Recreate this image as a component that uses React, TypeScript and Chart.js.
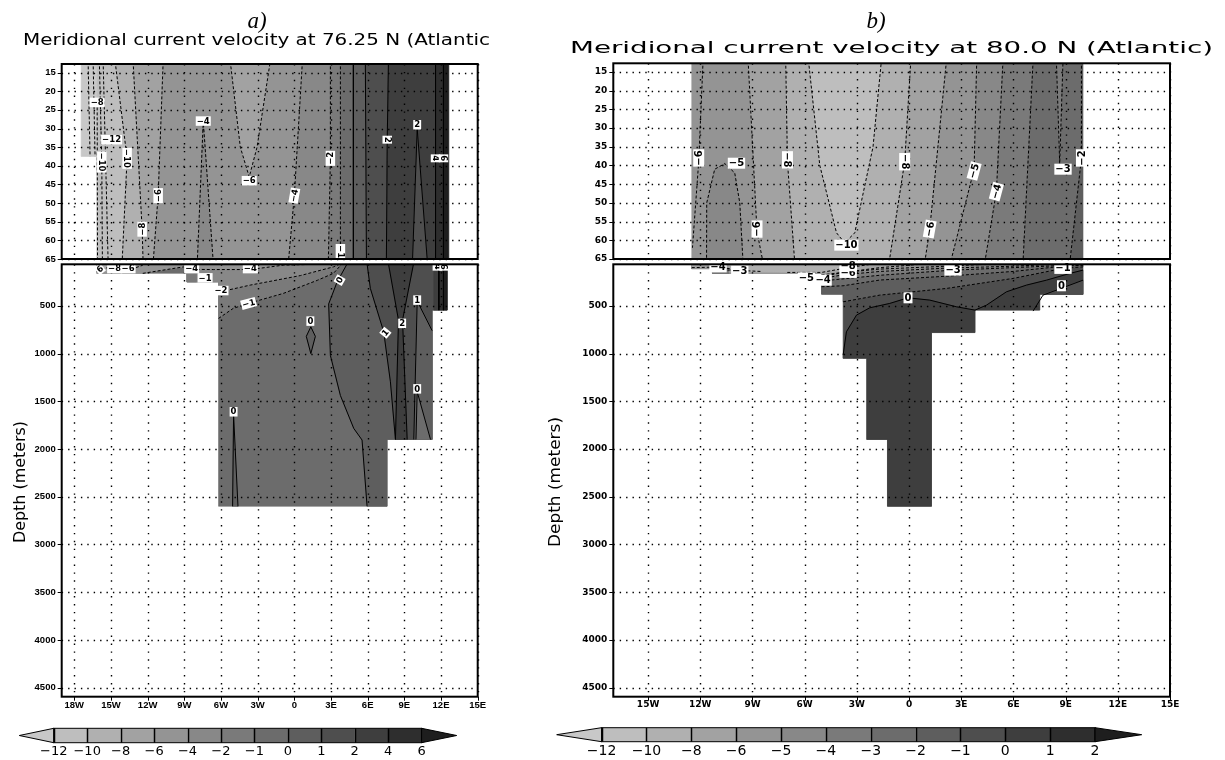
import React, { useEffect, useRef } from "react";
import { Chart, registerables } from "chart.js";

Chart.register(...registerables);

type Pt = [number, number];
interface Fill { c: number; p: Pt[] }
interface Line { v: number; p: Pt[] }
interface Label { t: string; x: number; y: number; r?: number }

// shading classes, light -> dark
const GRAYS = ["#c8c8c8", "#bebebe", "#b0b0b0", "#a2a2a2", "#949494", "#888888", "#7a7a7a", "#6c6c6c", "#5e5e5e", "#4e4e4e", "#3e3e3e", "#2e2e2e", "#1e1e1e"];

const LEVELS_A = ["−12", "−10", "−8", "−6", "−4", "−2", "−1", "0", "1", "2", "4", "6"];
const LEVELS_B = ["−12", "−10", "−8", "−6", "−5", "−4", "−3", "−2", "−1", "0", "1", "2"];

const LON_TICKS_A = [-18, -15, -12, -9, -6, -3, 0, 3, 6, 9, 12, 15];
const LON_LABELS_A = ["18W", "15W", "12W", "9W", "6W", "3W", "0", "3E", "6E", "9E", "12E", "15E"];
const LON_TICKS_B = [-15, -12, -9, -6, -3, 0, 3, 6, 9, 12, 15];
const LON_LABELS_B = ["15W", "12W", "9W", "6W", "3W", "0", "3E", "6E", "9E", "12E", "15E"];
const DEPTH_TICKS_UPPER = [15, 20, 25, 30, 35, 40, 45, 50, 55, 60, 65];
const DEPTH_TICKS_LOWER = [500, 1000, 1500, 2000, 2500, 3000, 3500, 4000, 4500];

// ---------- panel a, upper (12.7 - 65 m) ----------
const A_UPPER_FILLS: Fill[] = [
  { c: 0, p: [[-17.44, 12], [-16.16, 12], [-16.16, 37.5], [-17.44, 37.5]] },
  { c: 1, p: [[-16.16, 12], [-14.66, 12], [-13.68, 38], [-14.09, 66], [-16.16, 66]] },
  { c: 2, p: [[-14.66, 12], [-13.19, 12], [-12.45, 57], [-12.37, 66], [-14.09, 66], [-13.68, 38]] },
  { c: 3, p: [[-13.19, 12], [-10.73, 12], [-11.14, 48], [-11.55, 66], [-12.37, 66], [-12.45, 57]] },
  { c: 4, p: [[-10.73, 12], [0.66, 12], [0, 48], [-0.49, 66], [-11.55, 66], [-11.14, 48]] },
  { c: 5, p: [[-7.45, 28], [-6.63, 66], [-7.94, 66]] },
  { c: 3, p: [[-5.24, 12], [-4.42, 35], [-3.69, 43], [-3.05, 35], [-1.97, 12]] },
  { c: 5, p: [[0.66, 12], [2.95, 12], [2.95, 38], [2.78, 66], [-0.49, 66], [0, 48]] },
  { c: 6, p: [[2.95, 12], [3.77, 12], [3.77, 66], [2.78, 66], [2.95, 38]] },
  { c: 7, p: [[3.77, 12], [4.83, 12], [4.83, 66], [3.77, 66]] },
  { c: 8, p: [[4.83, 12], [5.81, 12], [5.9, 66], [4.83, 66]] },
  { c: 9, p: [[5.81, 12], [7.7, 12], [7.6, 33], [7.53, 66], [5.9, 66]] },
  { c: 10, p: [[7.7, 12], [11.55, 12], [11.55, 66], [7.53, 66], [7.6, 33]] },
  { c: 9, p: [[10.05, 30], [10.89, 66], [9.66, 66]] },
  { c: 11, p: [[11.55, 12], [12.2, 12], [12.2, 66], [11.55, 66]] },
  { c: 12, p: [[12.2, 12], [12.64, 12], [12.64, 66], [12.2, 66]] },
];
const A_UPPER_LINES: Line[] = [
  { v: -12, p: [[-16.87, 12], [-16.71, 37.5]] },
  { v: -10, p: [[-16.46, 12], [-16.3, 37.5]] },
  { v: -8, p: [[-16.13, 23], [-16.1, 66]] },
  { v: -12, p: [[-15.64, 12], [-15.48, 33], [-15.23, 66]] },
  { v: -10, p: [[-15.95, 12], [-15.75, 39], [-15.7, 66]] },
  { v: -10, p: [[-14.66, 12], [-13.68, 38], [-14.09, 66]] },
  { v: -8, p: [[-13.19, 12], [-12.45, 57], [-12.37, 66]] },
  { v: -6, p: [[-10.73, 12], [-11.14, 48], [-11.55, 66]] },
  { v: -4, p: [[-7.94, 66], [-7.45, 28], [-6.63, 66]] },
  { v: -6, p: [[-5.24, 12], [-4.42, 35], [-3.69, 43], [-3.05, 35], [-1.97, 12]] },
  { v: -4, p: [[0.66, 12], [0, 48], [-0.49, 66]] },
  { v: -2, p: [[2.95, 12], [2.95, 38], [2.78, 66]] },
  { v: -1, p: [[3.77, 12], [3.77, 66]] },
  { v: 0, p: [[4.83, 12], [4.83, 66]] },
  { v: 1, p: [[5.81, 12], [5.9, 66]] },
  { v: 2, p: [[7.7, 12], [7.6, 33], [7.53, 66]] },
  { v: 2, p: [[9.66, 66], [10.05, 30], [10.89, 66]] },
  { v: 4, p: [[11.55, 12], [11.55, 66]] },
  { v: 6, p: [[12.2, 12], [12.2, 66]] },
];
const A_UPPER_LABELS: Label[] = [
  { t: "−8", x: -16.13, y: 23 },
  { t: "−12", x: -14.95, y: 33 },
  { t: "−10", x: -15.75, y: 39, r: 90 },
  { t: "−10", x: -13.68, y: 38, r: 90 },
  { t: "−6", x: -11.14, y: 48, r: -90 },
  { t: "−8", x: -12.45, y: 57, r: -90 },
  { t: "−4", x: -7.45, y: 28 },
  { t: "−6", x: -3.69, y: 44 },
  { t: "−4", x: 0, y: 48, r: -80 },
  { t: "−2", x: 2.95, y: 38, r: -90 },
  { t: "−1", x: 3.77, y: 63, r: 90 },
  { t: "2", x: 7.6, y: 33, r: 90 },
  { t: "2", x: 10.05, y: 29 },
  { t: "4", x: 11.55, y: 38, r: 90 },
  { t: "6", x: 12.2, y: 38, r: 90 },
];

// ---------- panel a, lower (65 - 4600 m) ----------
const A_LOWER_FILLS: Fill[] = [
  { c: 7, p: [[-16.16, 60], [12.5, 60], [12.5, 545], [11.27, 545], [11.27, 1900], [7.59, 1900], [7.59, 2600], [-6.2, 2600], [-6.2, 250], [-8.79, 250], [-8.79, 160], [-16.16, 160]] },
  { c: 6, p: [[-8.79, 60], [3.9, 60], [3.2, 160], [1.88, 233], [-0.9, 370], [-3.77, 475], [-5.0, 527], [-6.2, 632], [-6.2, 250], [-8.79, 250]] },
  { c: 5, p: [[-8.79, 60], [3.77, 60], [3.2, 92], [0.5, 183], [-3.6, 283], [-6.06, 353], [-6.2, 353], [-6.2, 250], [-8.79, 250]] },
  { c: 6, p: [[-8.79, 168], [-8.0, 168], [-8.0, 250], [-8.79, 250]] },
  { c: 4, p: [[-16.16, 60], [3.2, 60], [-0.9, 74], [-3.6, 120], [-6.6, 120], [-8.5, 118], [-9.07, 92], [-12.4, 160], [-16.16, 160]] },
  { c: 3, p: [[-16.16, 60], [-12.6, 60], [-13.2, 120], [-16.16, 150]] },
  { c: 2, p: [[-16.16, 60], [-15.0, 60], [-15.3, 100], [-16.16, 110]] },
  { c: 8, p: [[4.32, 60], [3.5, 250], [2.81, 480], [2.95, 1020], [3.77, 1440], [4.86, 1784], [5.54, 1906], [5.95, 2600], [7.59, 2600], [7.59, 1900], [11.27, 1900], [11.27, 545], [12.5, 545], [12.5, 60]] },
  { c: 9, p: [[5.95, 60], [6.22, 318], [7.31, 772], [7.86, 1296], [8.27, 1900], [11.27, 1900], [11.27, 545], [12.5, 545], [12.5, 60]] },
  { c: 10, p: [[7.7, 60], [8.52, 650], [8.27, 1900], [9.23, 1900], [8.85, 650], [9.75, 60]] },
  { c: 8, p: [[10.05, 450], [11.27, 760], [11.27, 1900], [9.77, 1900]] },
  { c: 7, p: [[10.05, 1400], [11.14, 1900], [9.95, 1900]] },
  { c: 10, p: [[11.41, 60], [11.82, 60], [11.82, 545], [11.41, 545]] },
  { c: 11, p: [[11.82, 60], [12.2, 60], [12.2, 545], [11.82, 545]] },
  { c: 12, p: [[12.2, 60], [12.5, 60], [12.5, 545], [12.2, 545]] },
  { c: 8, p: [[-4.97, 1640], [-4.61, 2600], [-5.05, 2600]] },
  { c: 8, p: [[1.35, 720], [1.72, 820], [1.35, 1000], [0.98, 820]] },
];
const A_LOWER_LINES: Line[] = [
  { v: -6, p: [[-16.16, 140], [-15.3, 100], [-13.2, 110], [-12.4, 75]] },
  { v: -4, p: [[-12.4, 160], [-9.07, 92], [-8.5, 118], [-6.6, 120], [-3.6, 120], [-0.9, 74], [3.2, 60]] },
  { v: -2, p: [[-6.06, 353], [-3.6, 283], [0.5, 183], [3.2, 92], [3.77, 60]] },
  { v: -1, p: [[-6.2, 632], [-5.0, 527], [-3.77, 475], [-0.9, 370], [1.88, 233], [3.2, 160], [3.9, 60]] },
  { v: 0, p: [[4.32, 60], [3.5, 250], [2.81, 480], [2.95, 1020], [3.77, 1440], [4.86, 1784], [5.54, 1906], [5.95, 2600]] },
  { v: 1, p: [[5.95, 60], [6.22, 318], [7.31, 772], [7.86, 1296], [8.27, 1900]] },
  { v: 2, p: [[7.7, 60], [8.52, 650], [8.27, 1900]] },
  { v: 2, p: [[9.75, 60], [8.85, 650], [9.23, 1900]] },
  { v: 1, p: [[9.77, 1900], [10.05, 450], [11.27, 760]] },
  { v: 0, p: [[9.95, 1900], [10.05, 1400], [11.14, 1900]] },
  { v: 0, p: [[-5.05, 2600], [-4.97, 1640], [-4.61, 2600]] },
  { v: 0, p: [[1.35, 720], [1.72, 820], [1.35, 1000], [0.98, 820], [1.35, 720]] },
  { v: 4, p: [[11.82, 60], [11.82, 545]] },
  { v: 6, p: [[12.2, 60], [12.2, 545]] },
];
const A_LOWER_LABELS: Label[] = [
  { t: "6", x: -15.9, y: 115, r: -40 },
  { t: "−8", x: -14.7, y: 110 },
  { t: "−6", x: -13.6, y: 110 },
  { t: "−4", x: -8.4, y: 110 },
  { t: "−1", x: -7.3, y: 207 },
  { t: "−2", x: -6.0, y: 340 },
  { t: "−4", x: -3.6, y: 110 },
  { t: "−1", x: -3.74, y: 475, r: -15 },
  { t: "0", x: 3.7, y: 231, r: -60 },
  { t: "0", x: 1.31, y: 660 },
  { t: "1", x: 7.45, y: 782, r: -50 },
  { t: "2", x: 8.82, y: 684 },
  { t: "1", x: 10.05, y: 440 },
  { t: "0", x: 10.05, y: 1370 },
  { t: "0", x: -4.97, y: 1610 },
  { t: "4", x: 11.7, y: 90, r: 90 },
  { t: "6", x: 12.25, y: 90, r: 90 },
];

// ---------- panel b, upper ----------
const B_UPPER_FILLS: Fill[] = [
  { c: 4, p: [[-12.49, 12], [-9.25, 12], [-8.74, 57.6], [-8.39, 66], [-12.49, 66]] },
  { c: 5, p: [[-11.64, 66], [-11.63, 50], [-11.17, 41], [-10.59, 39.5], [-10.02, 42], [-9.73, 50], [-9.54, 66]] },
  { c: 3, p: [[-9.25, 12], [-7.09, 12], [-6.99, 39], [-6.57, 66], [-8.39, 66], [-8.74, 57.6]] },
  { c: 2, p: [[-7.09, 12], [0.1, 12], [-0.25, 39], [-1.15, 66], [-6.57, 66], [-6.99, 39]] },
  { c: 1, p: [[-5.78, 12], [-5.13, 40], [-4.17, 58], [-3.7, 60.7], [-3.12, 58], [-2.07, 35], [-1.59, 12]] },
  { c: 3, p: [[0.1, 12], [2.15, 12], [1.19, 57], [0.9, 66], [-1.15, 66], [-0.25, 39]] },
  { c: 4, p: [[2.15, 12], [3.89, 12], [3.74, 41], [2.38, 66], [0.9, 66], [1.19, 57]] },
  { c: 5, p: [[3.89, 12], [5.4, 12], [5.02, 47], [4.35, 66], [2.38, 66], [3.74, 41]] },
  { c: 6, p: [[5.4, 12], [7.13, 12], [6.55, 66], [4.35, 66], [5.02, 47]] },
  { c: 7, p: [[7.13, 12], [9.91, 12], [9.91, 38], [9.24, 66], [6.55, 66]] },
  { c: 6, p: [[8.47, 12], [8.66, 39.5], [8.85, 12]] },
  { c: 8, p: [[9.91, 12], [10.0, 12], [10.0, 66], [9.24, 66], [9.91, 38]] },
];
const B_UPPER_LINES: Line[] = [
  { v: -6, p: [[-11.84, 12], [-12.09, 39], [-12.45, 62]] },
  { v: -5, p: [[-11.64, 66], [-11.63, 50], [-11.17, 41], [-10.59, 39.5], [-10.02, 42], [-9.73, 50], [-9.54, 66]] },
  { v: -6, p: [[-9.25, 12], [-8.74, 57.6], [-8.39, 66]] },
  { v: -8, p: [[-7.09, 12], [-6.99, 39], [-6.57, 66]] },
  { v: -10, p: [[-5.78, 12], [-5.13, 40], [-4.17, 58], [-3.7, 60.7], [-3.12, 58], [-2.07, 35], [-1.59, 12]] },
  { v: -8, p: [[0.1, 12], [-0.25, 39], [-1.15, 66]] },
  { v: -6, p: [[2.15, 12], [1.19, 57], [0.9, 66]] },
  { v: -5, p: [[3.89, 12], [3.74, 41], [2.38, 66]] },
  { v: -4, p: [[5.4, 12], [5.02, 47], [4.35, 66]] },
  { v: -3, p: [[7.13, 12], [6.55, 66]] },
  { v: -3, p: [[8.47, 12], [8.66, 39.5], [8.85, 12]] },
  { v: -2, p: [[9.91, 12], [9.91, 38], [9.24, 66]] },
];
const B_UPPER_LABELS: Label[] = [
  { t: "−6", x: -12.09, y: 38, r: -90 },
  { t: "−5", x: -9.92, y: 39.4 },
  { t: "−6", x: -8.74, y: 57, r: -90 },
  { t: "−8", x: -6.99, y: 38.5, r: 90 },
  { t: "−10", x: -3.6, y: 61.3 },
  { t: "−8", x: -0.25, y: 39, r: 90 },
  { t: "−6", x: 1.19, y: 57, r: -80 },
  { t: "−5", x: 3.74, y: 41.5, r: -75 },
  { t: "−4", x: 5.02, y: 47, r: -75 },
  { t: "−3", x: 8.85, y: 41 },
  { t: "−2", x: 9.91, y: 38, r: -90 },
];

// ---------- panel b, lower ----------
const B_LOWER_FILLS: Fill[] = [
  { c: 9, p: [[-12.49, 60], [10.0, 60], [10.0, 380], [7.51, 380], [7.51, 545], [3.79, 545], [3.79, 780], [1.29, 780], [1.29, 2600], [-1.24, 2600], [-1.24, 1900], [-2.43, 1900], [-2.43, 1050], [-3.79, 1050], [-3.79, 378], [-5.03, 378], [-5.03, 160], [-11.3, 160], [-11.3, 110], [-12.49, 110]] },
  { c: 10, p: [[-3.79, 1016], [-3.6, 772], [-3.02, 597], [-2.26, 521], [-1.11, 475], [-0.06, 416], [1.19, 440], [2.72, 510], [3.79, 545], [4.45, 493], [5.6, 353], [6.75, 283], [7.9, 231], [9.24, 161], [10.0, 126], [10.0, 380], [7.51, 380], [7.51, 545], [3.79, 545], [3.79, 780], [1.29, 780], [1.29, 2600], [-1.24, 2600], [-1.24, 1900], [-2.43, 1900], [-2.43, 1050], [-3.79, 1050]] },
  { c: 9, p: [[7.7, 380], [10.0, 231], [10.0, 380]] },
  { c: 8, p: [[-12.49, 60], [10, 60], [10, 92], [8.85, 108], [5.98, 213], [2.15, 318], [-1.68, 388], [-3.79, 458], [-3.79, 378], [-5.03, 378], [-5.03, 160], [-11.3, 160], [-11.3, 110], [-12.49, 110]] },
  { c: 7, p: [[-12.49, 60], [10, 60], [10, 75], [8.85, 85], [5.98, 140], [2.15, 190], [-1.68, 230], [-3.79, 290], [-5.03, 300], [-5.03, 160], [-11.3, 160], [-11.3, 110], [-12.49, 110]] },
  { c: 6, p: [[-12.49, 60], [10, 60], [10, 68], [5.98, 100], [2.53, 126], [-1.68, 180], [-5.03, 240], [-5.03, 160], [-11.3, 160], [-11.3, 110], [-12.49, 110]] },
  { c: 5, p: [[-12.49, 60], [9, 60], [5.98, 85], [2.15, 105], [-1.68, 140], [-3.79, 175], [-5.03, 215], [-5.03, 160], [-10.3, 160], [-10.3, 108], [-12.49, 108]] },
  { c: 4, p: [[-12.49, 60], [5.0, 60], [2.15, 85], [-1.68, 115], [-3.79, 150], [-5.03, 195], [-5.03, 160], [-10.3, 160], [-10.3, 108], [-12.49, 108]] },
  { c: 3, p: [[-12.49, 60], [1.0, 60], [-1.68, 100], [-3.5, 144], [-5.03, 175], [-5.03, 160], [-10.3, 160], [-10.3, 100], [-12.49, 100]] },
  { c: 2, p: [[-10.3, 60], [-2.0, 60], [-3.5, 100], [-5.03, 150], [-10.3, 140]] },
];
const B_LOWER_LINES: Line[] = [
  { v: 0, p: [[-3.79, 1016], [-3.6, 772], [-3.02, 597], [-2.26, 521], [-1.11, 475], [-0.06, 416], [1.19, 440], [2.72, 510], [3.79, 545], [4.45, 493], [5.6, 353], [6.75, 283], [7.9, 231], [9.24, 161], [10.0, 126]] },
  { v: 0, p: [[7.13, 555], [7.7, 388], [10, 231]] },
  { v: -1, p: [[-3.79, 458], [-1.68, 388], [2.15, 318], [5.98, 213], [8.85, 108], [10, 92]] },
  { v: -2, p: [[-5.03, 300], [-3.79, 290], [-1.68, 230], [2.15, 190], [5.98, 140], [8.85, 85], [10, 75]] },
  { v: -3, p: [[-5.03, 240], [-1.68, 180], [2.53, 126], [5.98, 100], [10, 68]] },
  { v: -4, p: [[-5.03, 215], [-3.79, 175], [-1.68, 140], [2.15, 105], [5.98, 85], [9, 60]] },
  { v: -5, p: [[-5.03, 195], [-3.79, 150], [-1.68, 115], [2.15, 85], [5, 60]] },
  { v: -6, p: [[-5.03, 175], [-3.5, 144], [-1.68, 100], [1, 60]] },
  { v: -8, p: [[-7, 150], [-5.03, 150], [-3.5, 100], [-2, 60]] },
  { v: -4, p: [[-12.49, 100], [-11.3, 95], [-10.3, 110]] },
  { v: -3, p: [[-11.3, 130], [-10.3, 125], [-8.5, 140]] },
];
const B_LOWER_LABELS: Label[] = [
  { t: "−4", x: -10.98, y: 92 },
  { t: "−3", x: -9.73, y: 137 },
  { t: "−5", x: -5.9, y: 207 },
  { t: "−4", x: -4.94, y: 231 },
  { t: "−6", x: -3.5, y: 150 },
  { t: "−8", x: -3.5, y: 80 },
  { t: "−3", x: 2.53, y: 126 },
  { t: "−1", x: 8.85, y: 108 },
  { t: "0", x: -0.06, y: 416 },
  { t: "0", x: 8.76, y: 290 },
];

const W = 1225;
const H = 760;

interface Area { l: number; t: number; r: number; b: number }
interface FieldCfg {
  area: Area;
  xMin: number; xMax: number; yMin: number; yMax: number;
  xTicks: number[]; xLabels: string[]; yTicks: number[];
  showX: boolean;
  fills: Fill[]; lines: Line[]; labels: Label[];
  tickFont: { family: string; size: number };
  labelFont: string;
}

function makeField(canvas: HTMLCanvasElement, c: FieldCfg) {
  const YW = 40;
  const XH = c.showX ? 20 : 0;
  const plugin = {
    id: "field",
    beforeDatasetsDraw(chart: any) {
      const { ctx, chartArea: a } = chart;
      const x = chart.scales.x, y = chart.scales.y;
      ctx.save();
      ctx.beginPath();
      ctx.rect(a.left, a.top, a.right - a.left, a.bottom - a.top);
      ctx.clip();
      for (const f of c.fills) {
        ctx.beginPath();
        f.p.forEach(([lx, d], i) => {
          const px = x.getPixelForValue(lx), py = y.getPixelForValue(d);
          if (i) ctx.lineTo(px, py); else ctx.moveTo(px, py);
        });
        ctx.closePath();
        ctx.fillStyle = GRAYS[f.c];
        ctx.fill();
        ctx.strokeStyle = GRAYS[f.c];
        ctx.lineWidth = 0.6;
        ctx.setLineDash([]);
        ctx.stroke();
      }
      ctx.restore();
    },
    afterDatasetsDraw(chart: any) {
      const { ctx, chartArea: a } = chart;
      const x = chart.scales.x, y = chart.scales.y;
      ctx.save();
      ctx.strokeStyle = "#000";
      ctx.lineWidth = 1.4;
      ctx.setLineDash([1.4, 5]);
      for (const v of c.yTicks) {
        const py = Math.round(y.getPixelForValue(v)) + 0.5;
        ctx.beginPath(); ctx.moveTo(a.left, py); ctx.lineTo(a.right, py); ctx.stroke();
      }
      ctx.setLineDash([1.4, 6.5]);
      for (const v of c.xTicks) {
        const px = Math.round(x.getPixelForValue(v)) + 0.5;
        ctx.beginPath(); ctx.moveTo(px, a.top); ctx.lineTo(px, a.bottom); ctx.stroke();
      }
      ctx.setLineDash([]);
      ctx.lineWidth = 1;
      for (const v of c.yTicks) {
        const py = Math.round(y.getPixelForValue(v)) + 0.5;
        ctx.beginPath(); ctx.moveTo(a.left - 4, py); ctx.lineTo(a.left, py); ctx.stroke();
      }
      if (c.showX) {
        for (const v of c.xTicks) {
          const px = Math.round(x.getPixelForValue(v)) + 0.5;
          ctx.beginPath(); ctx.moveTo(px, a.bottom); ctx.lineTo(px, a.bottom + 4); ctx.stroke();
        }
      }
      // contour labels
      ctx.font = c.labelFont;
      ctx.textAlign = "center";
      ctx.textBaseline = "middle";
      for (const lb of c.labels) {
        const px = x.getPixelForValue(lb.x), py = y.getPixelForValue(lb.y);
        ctx.save();
        ctx.translate(px, py);
        if (lb.r) ctx.rotate((lb.r * Math.PI) / 180);
        const w = ctx.measureText(lb.t).width + 2;
        const h = parseFloat(c.labelFont.replace(/^\D*/, "")) + 1;
        ctx.fillStyle = "#fff";
        ctx.fillRect(-w / 2, -h / 2, w, h);
        ctx.fillStyle = "#000";
        ctx.fillText(lb.t, 0, 0.5);
        ctx.restore();
      }
      // frame
      ctx.lineWidth = 2;
      ctx.strokeStyle = "#000";
      ctx.strokeRect(a.left, a.top, a.right - a.left, a.bottom - a.top);
      ctx.restore();
    },
  };
  const datasets = c.lines.map((l) => ({
    data: l.p.map(([lx, d]) => ({ x: lx, y: d })),
    showLine: true,
    borderColor: "#000",
    borderWidth: 1,
    borderDash: l.v < 0 ? [3, 2] : [],
    pointRadius: 0,
    pointHoverRadius: 0,
    fill: false,
    tension: 0,
  }));
  return new Chart(canvas, {
    type: "scatter",
    data: { datasets },
    options: {
      responsive: false,
      animation: false,
      devicePixelRatio: 1,
      events: [],
      layout: { padding: { left: c.area.l - YW, top: c.area.t, right: W - c.area.r, bottom: H - c.area.b - XH } },
      plugins: { legend: { display: false }, tooltip: { enabled: false } },
      scales: {
        x: {
          type: "linear",
          min: c.xMin,
          max: c.xMax,
          grid: { display: false, drawTicks: false },
          border: { display: false },
          afterFit: (s: any) => { s.height = XH; },
          afterBuildTicks: (s: any) => { s.ticks = c.xTicks.map((v) => ({ value: v })); },
          ticks: {
            display: c.showX,
            autoSkip: false,
            maxRotation: 0,
            padding: 3,
            color: "#000",
            font: { family: c.tickFont.family, size: c.tickFont.size, weight: "bold" },
            callback: (_v: any, i: number) => c.xLabels[i],
          },
        },
        y: {
          type: "linear",
          reverse: true,
          min: c.yMin,
          max: c.yMax,
          grid: { display: false, drawTicks: false },
          border: { display: false },
          afterFit: (s: any) => { s.width = YW; },
          afterBuildTicks: (s: any) => { s.ticks = c.yTicks.map((v) => ({ value: v })); },
          ticks: {
            autoSkip: false,
            padding: 6,
            color: "#000",
            font: { family: c.tickFont.family, size: c.tickFont.size, weight: "bold" },
            callback: (_v: any, i: number) => String(c.yTicks[i]),
          },
        },
      },
    } as any,
    plugins: [plugin as any],
  });
}

function makeBar(canvas: HTMLCanvasElement, area: Area, levels: string[], xMin: number, xMax: number, fontSize: number) {
  const n = levels.length - 1;
  const XH = 18;
  const plugin = {
    id: "bar",
    beforeDatasetsDraw(chart: any) {
      const { ctx, chartArea: a } = chart;
      const x = chart.scales.x;
      const top = a.top, bot = a.bottom, mid = (top + bot) / 2;
      ctx.save();
      ctx.strokeStyle = "#000";
      ctx.lineWidth = 1;
      ctx.beginPath();
      ctx.moveTo(x.getPixelForValue(xMin), mid);
      ctx.lineTo(x.getPixelForValue(0), top);
      ctx.lineTo(x.getPixelForValue(0), bot);
      ctx.closePath();
      ctx.fillStyle = GRAYS[0];
      ctx.fill();
      ctx.stroke();
      for (let i = 0; i < n; i++) {
        const x0 = x.getPixelForValue(i), x1 = x.getPixelForValue(i + 1);
        ctx.fillStyle = GRAYS[i + 1];
        ctx.fillRect(x0, top, x1 - x0, bot - top);
      }
      ctx.lineWidth = 1.5;
      for (let i = 0; i <= n; i++) {
        const px = Math.round(x.getPixelForValue(i)) + 0.5;
        ctx.beginPath(); ctx.moveTo(px, top); ctx.lineTo(px, bot); ctx.stroke();
      }
      ctx.lineWidth = 1;
      ctx.strokeRect(x.getPixelForValue(0), top, x.getPixelForValue(n) - x.getPixelForValue(0), bot - top);
      ctx.beginPath();
      ctx.moveTo(x.getPixelForValue(n), top);
      ctx.lineTo(x.getPixelForValue(xMax), mid);
      ctx.lineTo(x.getPixelForValue(n), bot);
      ctx.closePath();
      ctx.fillStyle = GRAYS[12];
      ctx.fill();
      ctx.stroke();
      ctx.restore();
    },
  };
  return new Chart(canvas, {
    type: "scatter",
    data: { datasets: [] },
    options: {
      responsive: false,
      animation: false,
      devicePixelRatio: 1,
      events: [],
      layout: { padding: { left: area.l, top: area.t, right: W - area.r, bottom: H - area.b - XH } },
      plugins: { legend: { display: false }, tooltip: { enabled: false } },
      scales: {
        x: {
          type: "linear",
          min: xMin,
          max: xMax,
          grid: { display: false, drawTicks: false },
          border: { display: false },
          afterFit: (s: any) => { s.height = XH; },
          afterBuildTicks: (s: any) => { s.ticks = levels.map((_l, i) => ({ value: i })); },
          ticks: {
            autoSkip: false,
            maxRotation: 0,
            padding: 1,
            color: "#000",
            font: { family: "DejaVu Sans", size: fontSize },
            callback: (_v: any, i: number) => levels[i],
          },
        },
        y: { display: false, min: 0, max: 1 },
      },
    } as any,
    plugins: [plugin as any],
  });
}

export default function App() {
  const r0 = useRef<HTMLCanvasElement>(null);
  const r1 = useRef<HTMLCanvasElement>(null);
  const r2 = useRef<HTMLCanvasElement>(null);
  const r3 = useRef<HTMLCanvasElement>(null);
  const r4 = useRef<HTMLCanvasElement>(null);
  const r5 = useRef<HTMLCanvasElement>(null);
  const refs = [r0, r1, r2, r3, r4, r5];

  useEffect(() => {
    const fontA = { family: "Liberation Sans", size: 9.5 };
    const fontB = { family: "DejaVu Sans", size: 9 };
    const labA = 'bold 8.5px "DejaVu Sans"';
    const labB = 'bold 10px "DejaVu Sans"';
    const charts = [
      makeField(r0.current!, {
        area: { l: 61.7, t: 64, r: 477.7, b: 259 }, xMin: -19.03, xMax: 15, yMin: 12.7, yMax: 65,
        xTicks: LON_TICKS_A, xLabels: LON_LABELS_A, yTicks: DEPTH_TICKS_UPPER, showX: false,
        fills: A_UPPER_FILLS, lines: A_UPPER_LINES, labels: A_UPPER_LABELS, tickFont: fontA, labelFont: labA,
      }),
      makeField(r1.current!, {
        area: { l: 61.7, t: 264.3, r: 477.7, b: 696.7 }, xMin: -19.03, xMax: 15, yMin: 65, yMax: 4595,
        xTicks: LON_TICKS_A, xLabels: LON_LABELS_A, yTicks: DEPTH_TICKS_LOWER, showX: true,
        fills: A_LOWER_FILLS, lines: A_LOWER_LINES, labels: A_LOWER_LABELS, tickFont: fontA, labelFont: labA,
      }),
      makeField(r2.current!, {
        area: { l: 613.3, t: 63.3, r: 1170, b: 259 }, xMin: -17, xMax: 15, yMin: 12.7, yMax: 65,
        xTicks: LON_TICKS_B, xLabels: LON_LABELS_B, yTicks: DEPTH_TICKS_UPPER, showX: false,
        fills: B_UPPER_FILLS, lines: B_UPPER_LINES, labels: B_UPPER_LABELS, tickFont: fontB, labelFont: labB,
      }),
      makeField(r3.current!, {
        area: { l: 613.3, t: 264.3, r: 1170, b: 696.7 }, xMin: -17, xMax: 15, yMin: 65, yMax: 4595,
        xTicks: LON_TICKS_B, xLabels: LON_LABELS_B, yTicks: DEPTH_TICKS_LOWER, showX: true,
        fills: B_LOWER_FILLS, lines: B_LOWER_LINES, labels: B_LOWER_LABELS, tickFont: fontB, labelFont: labB,
      }),
      makeBar(r4.current!, { l: 19.3, t: 728.3, r: 456.7, b: 742.7 }, LEVELS_A, -1.03, 12.05, 13),
      makeBar(r5.current!, { l: 556.7, t: 727.7, r: 1141.7, b: 741.7 }, LEVELS_B, -1.0, 12.04, 14),
    ];
    return () => charts.forEach((ch) => ch.destroy());
  }, []);

  return (
    <div style={{ position: "fixed", left: 0, top: 0, width: W, height: H, background: "#fff", overflow: "hidden" }}>
      {refs.map((r, i) => (
        <canvas key={i} ref={r} width={W} height={H} style={{ position: "absolute", left: 0, top: 0, width: W, height: H }} />
      ))}
      <svg width={W} height={H} style={{ position: "absolute", left: 0, top: 0 }}>
        <text x={257} y={28} fontFamily="Liberation Serif" fontStyle="italic" fontSize={23} textAnchor="middle">a)</text>
        <text x={876} y={28} fontFamily="Liberation Serif" fontStyle="italic" fontSize={23} textAnchor="middle">b)</text>
        <text x={23} y={45} fontFamily="DejaVu Sans" fontSize={15} textLength={467} lengthAdjust="spacingAndGlyphs">Meridional current velocity at 76.25 N (Atlantic</text>
        <text x={570} y={53} fontFamily="DejaVu Sans" fontSize={15} textLength={643} lengthAdjust="spacingAndGlyphs">Meridional current velocity at 80.0 N (Atlantic)</text>
        <text transform="translate(25,482) rotate(-90)" fontFamily="DejaVu Sans" fontSize={15} textAnchor="middle" textLength={122} lengthAdjust="spacingAndGlyphs">Depth (meters)</text>
        <text transform="translate(560,482) rotate(-90)" fontFamily="DejaVu Sans" fontSize={16} textAnchor="middle" textLength={130} lengthAdjust="spacingAndGlyphs">Depth (meters)</text>
      </svg>
    </div>
  );
}
